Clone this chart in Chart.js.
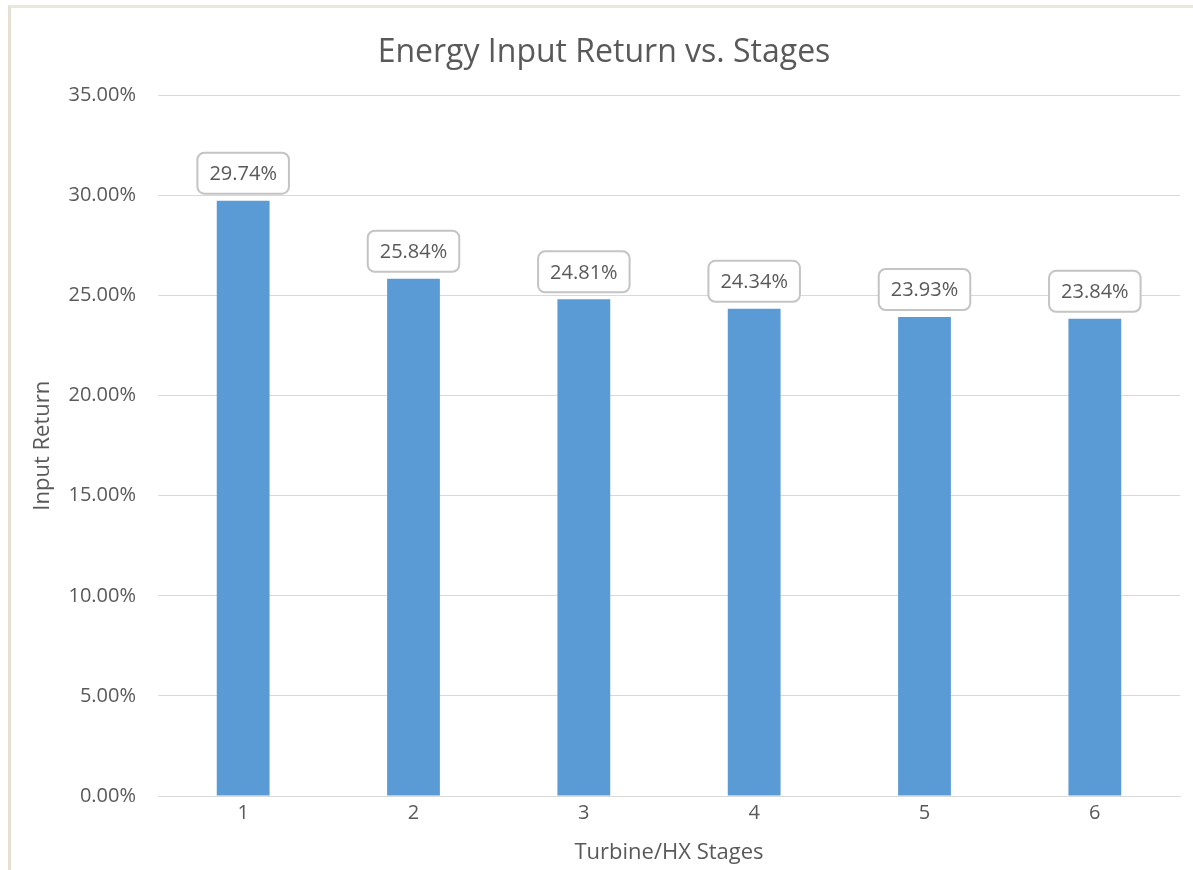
<!DOCTYPE html>
<html>
<head>
<meta charset="utf-8">
<title>Energy Input Return vs. Stages</title>
<script src="https://cdn.jsdelivr.net/npm/chart.js@4.4.0/dist/chart.umd.min.js"></script>
<style>
    html, body { margin: 0; padding: 0; background: #fff; }
    #frame {
        position: absolute; left: 8px; top: 5px; right: -4px; bottom: -4px;
        border-left: 3px solid #e4e0d4; border-top: 3px solid #ebe7db;
    }
    #wrap { position: absolute; left: 0; top: 0; width: 1193px; height: 870px; }
</style>
</head>
<body>
<div id="frame"></div>
<div id="wrap"><canvas id="chart" width="1193" height="870"></canvas></div>
<script>
// chart data
const stages = ['1', '2', '3', '4', '5', '6'];
const inputReturn = [29.74, 25.84, 24.81, 24.34, 23.93, 23.84];
const yTicks = [0, 5, 10, 15, 20, 25, 30, 35];

const textColor = '#595959';
const fontFamily = '"Open Sans", "Noto Sans", sans-serif';

// rounded data label boxes above each bar
const labelBoxes = {
    id: 'labelBoxes',
    afterDatasetsDraw(chart) {
        const ctx = chart.ctx;
        const meta = chart.getDatasetMeta(0);
        ctx.save();
        ctx.font = '20px ' + fontFamily;
        ctx.textAlign = 'center';
        ctx.textBaseline = 'middle';
        meta.data.forEach((bar, i) => {
            const txt = inputReturn[i].toFixed(2) + '%';
            const w = ctx.measureText(txt).width + 24;
            const h = 41;
            const x = bar.x - w / 2;
            const y = bar.y - 7 - h;
            const r = 7;
            ctx.beginPath();
            ctx.moveTo(x + r, y);
            ctx.arcTo(x + w, y, x + w, y + h, r);
            ctx.arcTo(x + w, y + h, x, y + h, r);
            ctx.arcTo(x, y + h, x, y, r);
            ctx.arcTo(x, y, x + w, y, r);
            ctx.closePath();
            ctx.fillStyle = '#fff';
            ctx.fill();
            ctx.lineWidth = 2;
            ctx.strokeStyle = '#c4c4c4';
            ctx.stroke();
            ctx.fillStyle = textColor;
            ctx.fillText(txt, bar.x, y + h / 2 + 1);
        });
        ctx.restore();
    }
};

new Chart(document.getElementById('chart'), {
    type: 'bar',
    data: {
        labels: stages,
        datasets: [{
            label: 'Input Return',
            data: inputReturn,
            backgroundColor: '#5b9bd5',
            borderWidth: 0,
            barPercentage: 0.31,
            categoryPercentage: 1
        }]
    },
    options: {
        responsive: false,
        animation: false,
        layout: { padding: { left: 28, right: 13, top: 0, bottom: 0 } },
        plugins: {
            legend: { display: false },
            tooltip: { enabled: false },
            title: {
                display: true,
                text: 'Energy Input Return vs. Stages',
                color: textColor,
                font: { family: fontFamily, size: 32, weight: 'normal' },
                padding: { top: 34, bottom: 23 }
            }
        },
        scales: {
            x: {
                grid: { display: false, drawTicks: false },
                border: { color: '#d9d9d9', width: 1 },
                ticks: {
                    color: textColor,
                    font: { family: fontFamily, size: 20 },
                    padding: 5
                },
                title: {
                    display: true,
                    text: 'Turbine/HX Stages',
                    color: textColor,
                    font: { family: fontFamily, size: 22 },
                    padding: { top: 0, bottom: 4 }
                },
                afterFit: scale => { scale.height = 74; }
            },
            y: {
                min: 0,
                max: 35,
                afterBuildTicks: scale => {
                    scale.ticks = yTicks.map(v => ({ value: v }));
                },
                grid: { color: '#d9d9d9', drawTicks: false },
                border: { display: false },
                ticks: {
                    color: textColor,
                    font: { family: fontFamily, size: 20 },
                    padding: 22,
                    callback: v => v.toFixed(2) + '%'
                },
                title: {
                    display: true,
                    text: 'Input Return',
                    color: textColor,
                    font: { family: fontFamily, size: 22 },
                    padding: { top: 2, bottom: 0 }
                },
                afterFit: scale => { scale.width = 130; }
            }
        }
    },
    plugins: [labelBoxes]
});
</script>
</body>
</html>
